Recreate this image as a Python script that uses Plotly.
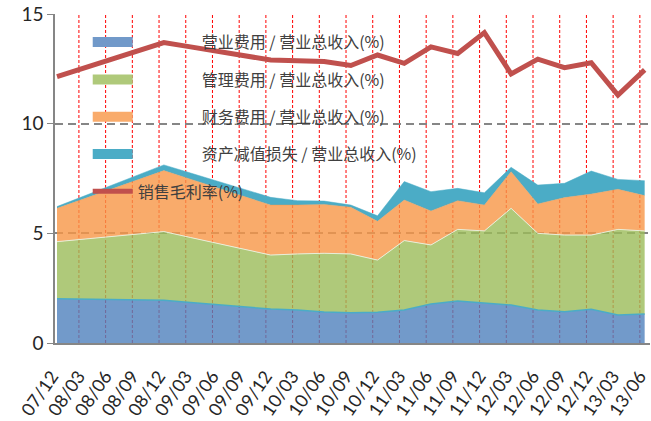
import plotly.graph_objects as go

periods = ["07/12", "08/03", "08/06", "08/09", "08/12", "09/03", "09/06", "09/09",
           "09/12", "10/03", "10/06", "10/09", "10/12", "11/03", "11/06", "11/09",
           "11/12", "12/03", "12/06", "12/09", "12/12", "13/03", "13/06"]

selling = [2.02, 2.00, 1.98, 1.97, 1.95, 1.85, 1.75, 1.65, 1.55, 1.50, 1.41, 1.38,
           1.40, 1.50, 1.78, 1.92, 1.81, 1.73, 1.50, 1.43, 1.54, 1.28, 1.32]
admin = [2.60, 2.74, 2.87, 3.00, 3.13, 2.96, 2.80, 2.63, 2.46, 2.56, 2.68, 2.68,
         2.38, 3.17, 2.69, 3.26, 3.30, 4.41, 3.50, 3.49, 3.38, 3.90, 3.79]
finance = [1.52, 1.83, 2.15, 2.46, 2.78, 2.66, 2.53, 2.40, 2.28, 2.23, 2.23, 2.13,
           1.77, 1.85, 1.55, 1.31, 1.18, 1.67, 1.34, 1.71, 1.87, 1.83, 1.61]
impairment = [0.08, 0.13, 0.17, 0.22, 0.26, 0.28, 0.30, 0.33, 0.35, 0.20, 0.15, 0.10,
              0.25, 0.84, 0.88, 0.56, 0.56, 0.20, 0.86, 0.65, 1.05, 0.45, 0.68]
gross_margin = [12.15, 12.54, 12.93, 13.31, 13.70, 13.50, 13.30, 13.10, 12.90, 12.87,
                12.83, 12.65, 13.13, 12.75, 13.50, 13.20, 14.15, 12.27, 12.94, 12.55,
                12.78, 11.30, 12.45]

names = ["营业费用 / 营业总收入(%)", "管理费用 / 营业总收入(%)",
         "财务费用 / 营业总收入(%)", "资产减值损失 / 营业总收入(%)", "销售毛利率(%)"]

pad = "\u3000" * 4
x = list(range(len(periods)))

fig = go.Figure()
areas = [
    (selling, names[0], "rgba(79,129,189,0.8)", "#7199C9", dict(color="#4BACC6", width=1.5)),
    (admin, names[1], "rgba(155,187,89,0.8)", "#AFC97A", dict(color="#E8EED8", width=1)),
    (finance, names[2], "rgba(247,150,70,0.8)", "#F9AB6B", dict(color="rgba(247,150,70,0.8)", width=0.5)),
    (impairment, names[3], "#4BACC6", "#4BACC6", dict(color="#4BACC6", width=0.5)),
]
for i, (vals, nm, fc, lc, ln) in enumerate(areas):
    fig.add_trace(go.Scatter(x=x, y=vals, name=pad + nm, stackgroup="s", mode="lines",
                             line=ln, fillcolor=fc, showlegend=False))
fig.add_trace(go.Scatter(x=x, y=gross_margin, name=names[4], mode="lines",
                         line=dict(color="#C0504D", width=5), showlegend=False))

# legend entries
for i, (vals, nm, fc, lc, ln) in enumerate(areas):
    fig.add_trace(go.Scatter(x=[None], y=[None], name=pad + nm, mode="lines",
                             line=dict(color=lc, width=14), legendgroup=f"g{i}"))
fig.add_trace(go.Scatter(x=[None], y=[None], name=names[4], mode="lines",
                         line=dict(color="#C0504D", width=5), legendgroup="g4"))

shapes = []
for i in x[1:]:
    shapes.append(dict(type="line", xref="x", yref="y", x0=i - 0.18, x1=i - 0.18, y0=0, y1=15,
                       line=dict(color="#FF0000", width=1, dash="3px,2px"), layer="below"))

fig.update_layout(
    width=651, height=421,
    margin=dict(l=55, r=1, t=14, b=78, autoexpand=False),
    paper_bgcolor="white", plot_bgcolor="white",
    font=dict(family="Lato, Noto Sans CJK SC", color="#262626"),
    shapes=shapes,
    showlegend=True,
    legend=dict(x=0.055, y=0.966, xanchor="left", yanchor="top", traceorder="grouped",
                bgcolor="rgba(0,0,0,0)", itemwidth=40, tracegroupgap=13.5,
                font=dict(family="Noto Sans CJK SC", size=16, color="#404040")),
    xaxis=dict(range=[-0.075, 22.2], tickmode="array", tickvals=x, ticktext=periods,
               tickangle=-55, showgrid=False, showline=True, linecolor="#868686",
               linewidth=1.5, ticks="", tickfont=dict(size=18, family="Lato", color="#262626"),
               zeroline=False, automargin=False, ticklabeloverflow="allow",
               ticklabelstandoff=14, ticklabelshift=-5),
    yaxis=dict(range=[0, 15], tickvals=[0, 5, 10, 15], showgrid=True, gridcolor="#868686",
               griddash="8px,5px", gridwidth=1.5, showline=True, linecolor="#868686",
               linewidth=1.5, ticks="outside", ticklen=6, tickcolor="#868686",
               tickfont=dict(size=19, family="Lato", color="#262626"), zeroline=False,
               automargin=False),
)

fig.write_html("out.html", post_script="document.body.style.margin='0';",
               config={"displayModeBar": False})
